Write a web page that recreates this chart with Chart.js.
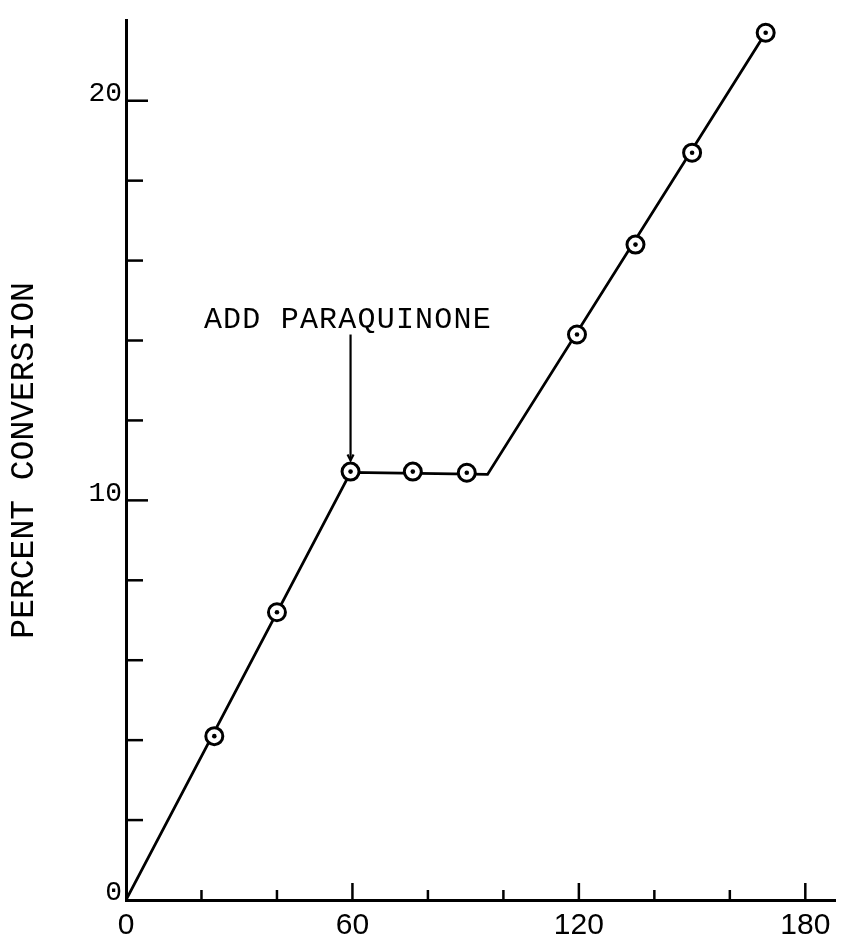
<!DOCTYPE html>
<html>
<head>
<meta charset="utf-8">
<style>
  html, body { margin: 0; padding: 0; background: #fff; }
  canvas { display: block; }
</style>
<script src="https://cdn.jsdelivr.net/npm/chart.js@4/dist/chart.umd.min.js"></script>
</head>
<body>
<canvas id="chart" width="847" height="938"></canvas>
<script>
// measured points (time, minutes / percent conversion)
const timeMin = [23.4, 40, 59.5, 76, 90.3, 119.5, 135, 150, 169.5];
const conversion = [4.1, 7.2, 10.72, 10.72, 10.69, 14.15, 16.4, 18.7, 21.7];

// hand-drawn fit line
const fitTime = [0, 59.5, 95.8, 169.5];
const fitConversion = [0, 10.7, 10.65, 21.7];

// tick positions and the labelled ones
const xTickValues = [0, 20, 40, 60, 80, 100, 120, 140, 160, 180];
const yTickValues = [0, 2, 4, 6, 8, 10, 12, 14, 16, 18, 20];
const xTickLabels = [0, 60, 120, 180];
const yTickLabels = [0, 10, 20];

const toXY = (xs, ys) => xs.map((x, i) => ({ x, y: ys[i] }));

/* =========================
   INSIDE TICKS + ANNOTATION
========================= */
const insideTicks = {
    id: "insideTicks",
    afterDatasetsDraw(chart) {
        const ctx = chart.ctx;
        const { x, y } = chart.scales;
        const area = chart.chartArea;

        ctx.save();
        ctx.strokeStyle = "#000";
        ctx.lineWidth = 2.5;

        x.ticks.forEach(t => {
            if (t.value === 0) return;
            const px = x.getPixelForValue(t.value);
            const len = xTickLabels.includes(t.value) ? 17 : 10;
            ctx.beginPath();
            ctx.moveTo(px, area.bottom);
            ctx.lineTo(px, area.bottom - len);
            ctx.stroke();
        });

        y.ticks.forEach(t => {
            if (t.value === 0) return;
            const py = y.getPixelForValue(t.value);
            const len = yTickLabels.includes(t.value) ? 22 : 17;
            ctx.beginPath();
            ctx.moveTo(area.left, py);
            ctx.lineTo(area.left + len, py);
            ctx.stroke();
        });

        // "ADD PARAQUINONE" arrow
        const ax = x.getPixelForValue(59.5);
        const aTop = y.getPixelForValue(14.15);
        const aBot = y.getPixelForValue(11.0);
        ctx.lineWidth = 2.2;
        ctx.beginPath();
        ctx.moveTo(ax, aTop);
        ctx.lineTo(ax, aBot);
        ctx.stroke();
        ctx.beginPath();
        ctx.moveTo(ax - 3, aBot - 6);
        ctx.lineTo(ax, aBot);
        ctx.lineTo(ax + 3, aBot - 6);
        ctx.stroke();

        ctx.fillStyle = "#000";
        ctx.font = '30px "Liberation Mono", "Courier New", monospace';
        ctx.letterSpacing = "1.2px";
        ctx.textAlign = "center";
        ctx.textBaseline = "middle";
        ctx.fillText("ADD PARAQUINONE", x.getPixelForValue(58.8), y.getPixelForValue(14.5));
        ctx.restore();
    }
};

/* =========================
   CHART
========================= */
new Chart(document.getElementById("chart"), {
    type: "scatter",
    data: {
        datasets: [
            {
                data: toXY(timeMin, conversion),
                pointRadius: 2.3,
                pointBackgroundColor: "#000",
                pointBorderWidth: 0,
                order: 0
            },
            {
                data: toXY(timeMin, conversion),
                pointRadius: 8.5,
                pointBackgroundColor: "#fff",
                pointBorderColor: "#000",
                pointBorderWidth: 3,
                order: 1
            },
            {
                data: toXY(fitTime, fitConversion),
                showLine: true,
                borderColor: "#000",
                borderWidth: 2.8,
                pointRadius: 0,
                order: 2
            }
        ]
    },
    options: {
        responsive: false,
        animation: false,
        layout: { padding: { top: 18, right: 6, left: 0, bottom: 0 } },
        plugins: {
            legend: { display: false },
            tooltip: { enabled: false }
        },
        scales: {
            x: {
                type: "linear",
                min: 0,
                max: 188,
                grid: { display: false, drawTicks: false },
                border: { display: true, color: "#000", width: 3 },
                afterBuildTicks: s => { s.ticks = xTickValues.map(v => ({ value: v })); },
                ticks: {
                    autoSkip: false,
                    maxRotation: 0,
                    padding: 8,
                    color: "#000",
                    font: { family: '"Liberation Sans", Arial, sans-serif', size: 30 },
                    callback: v => xTickLabels.includes(v) ? String(v) : ""
                },
                afterFit: s => { s.height = 38; }
            },
            y: {
                type: "linear",
                min: 0,
                max: 22,
                grid: { display: false, drawTicks: false },
                border: { display: true, color: "#000", width: 3 },
                afterBuildTicks: s => { s.ticks = yTickValues.map(v => ({ value: v })); },
                title: {
                    display: true,
                    text: "PERCENT CONVERSION",
                    color: "#000",
                    font: { family: '"Liberation Mono", "Courier New", monospace', size: 33 }
                },
                ticks: {
                    autoSkip: false,
                    padding: 4,
                    labelOffset: -7,
                    color: "#000",
                    font: { family: '"Liberation Mono", "Courier New", monospace', size: 28 },
                    callback: v => yTickLabels.includes(v) ? String(v) : ""
                },
                afterFit: s => { s.width = 126; }
            }
        }
    },
    plugins: [insideTicks]
});
</script>
</body>
</html>
